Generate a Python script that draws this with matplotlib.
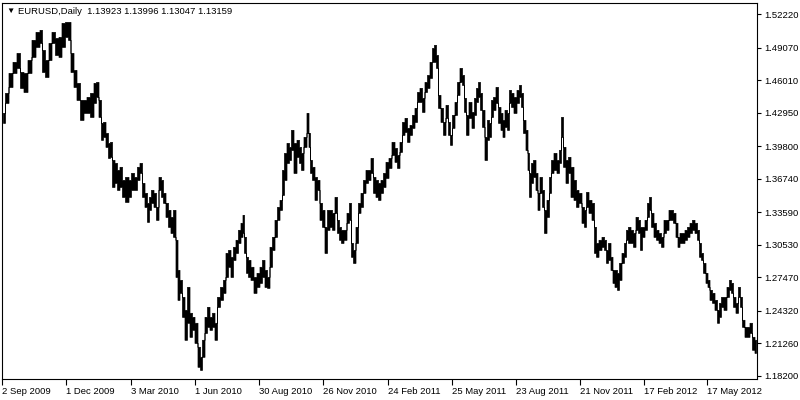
import matplotlib
matplotlib.use("Agg")
import matplotlib.pyplot as plt

plt.rcParams['font.family'] = ['Liberation Sans', 'DejaVu Sans']

# EURUSD daily, high/low (bar = trading day from 2 Sep 2009)
bar = [1, 5, 8, 13, 16, 20, 23, 28, 31, 36, 39, 41, 45, 48, 51, 55, 58, 61, 65, 67,
       70, 73, 76, 80, 83, 86, 90, 93, 95, 98, 100, 102, 105, 107, 109, 111, 114, 116, 119, 121,
       125, 128, 130, 134, 136, 139, 141, 144, 146, 148, 150, 153, 155, 158, 160, 162, 165, 167, 170, 172,
       175, 176, 179, 181, 184, 186, 189, 191, 194, 197, 199, 201, 204, 206, 209, 211, 214, 216, 220, 222,
       225, 227, 230, 232, 235, 237, 240, 241, 243, 245, 247, 250, 253, 256, 259, 261, 264, 266, 269, 271,
       274, 276, 279, 281, 283, 286, 288, 290, 293, 296, 298, 300, 303, 306, 307, 309, 311, 314, 316, 319,
       321, 324, 326, 329, 331, 334, 336, 338, 340, 343, 346, 348, 350, 352, 355, 357, 360, 362, 365, 367,
       370, 372, 375, 377, 380, 382, 385, 388, 391, 394, 396, 399, 401, 404, 406, 409, 411, 414, 416, 419,
       421, 424, 426, 429, 431, 433, 435, 437, 440, 442, 445, 447, 449, 451, 454, 456, 459, 461, 463, 465,
       468, 471, 473, 475, 477, 479, 481, 484, 486, 488, 490, 492, 495, 497, 500, 501, 504, 506, 508, 510,
       513, 516, 518, 520, 522, 525, 526, 528, 530, 532, 535, 536, 539, 541, 543, 546, 548, 550, 553, 556,
       558, 560, 562, 565, 567, 570, 573, 575, 578, 581, 583, 585, 588, 591, 593, 595, 598, 601, 603, 605,
       607, 610, 611, 614, 616, 618, 621, 623, 625, 627, 630, 632, 635, 637, 639, 641, 644, 646, 648, 650,
       653, 655, 658, 660, 663, 665, 668, 670, 672, 675, 676, 679, 681, 684, 686, 689, 691, 694, 696, 698,
       700, 702, 705, 706, 709, 711, 714, 716, 718, 720, 723, 726, 728, 730, 732, 735, 737, 739, 741, 744,
       746, 749, 751, 754]

high = [1.4294, 1.4482, 1.4670, 1.4774, 1.4858, 1.4679, 1.4670, 1.4792, 1.4981, 1.5056,
        1.5075, 1.4886, 1.4792, 1.4952, 1.5056, 1.4999, 1.5009, 1.5141, 1.5150, 1.5150,
        1.4858, 1.4698, 1.4576, 1.4416, 1.4416, 1.4444, 1.4482, 1.4576, 1.4585, 1.4416,
        1.4200, 1.4209, 1.4105, 1.4011, 1.4021, 1.3851, 1.3823, 1.3757, 1.3786, 1.3663,
        1.3691, 1.3663, 1.3729, 1.3691, 1.3786, 1.3823, 1.3635, 1.3541, 1.3447, 1.3503,
        1.3569, 1.3541, 1.3409, 1.3691, 1.3663, 1.3541, 1.3447, 1.3381, 1.3315, 1.3381,
        1.3099, 1.2816, 1.2722, 1.2562, 1.2440, 1.2656, 1.2412, 1.2374, 1.2318, 1.2092,
        1.1998, 1.2158, 1.2374, 1.2468, 1.2374, 1.2412, 1.2318, 1.2562, 1.2656, 1.2722,
        1.2976, 1.3004, 1.2939, 1.3033, 1.3099, 1.3193, 1.3259, 1.3334, 1.3127, 1.2939,
        1.2910, 1.2845, 1.2750, 1.2788, 1.2845, 1.2910, 1.2816, 1.2750, 1.3033, 1.3127,
        1.3287, 1.3409, 1.3475, 1.3757, 1.3917, 1.4011, 1.3974, 1.4134, 1.4011, 1.4040,
        1.3974, 1.3917, 1.4068, 1.4294, 1.4105, 1.3851, 1.3786, 1.3691, 1.3663, 1.3447,
        1.3381, 1.3221, 1.3381, 1.3381, 1.3353, 1.3503, 1.3287, 1.3221, 1.3193, 1.3193,
        1.3353, 1.3447, 1.3070, 1.3004, 1.3221, 1.3447, 1.3541, 1.3663, 1.3757, 1.3757,
        1.3870, 1.3691, 1.3663, 1.3635, 1.3663, 1.3729, 1.3833, 1.3870, 1.4021, 1.3964,
        1.3898, 1.4021, 1.4209, 1.4247, 1.4153, 1.4181, 1.4275, 1.4341, 1.4491, 1.4529,
        1.4435, 1.4585, 1.4651, 1.4774, 1.4905, 1.4934, 1.4839, 1.4463, 1.4341, 1.4209,
        1.4369, 1.4209, 1.4087, 1.4275, 1.4397, 1.4585, 1.4717, 1.4651, 1.4435, 1.4275,
        1.4397, 1.4303, 1.4435, 1.4529, 1.4585, 1.4482, 1.4322, 1.4068, 1.4228, 1.4200,
        1.4416, 1.4444, 1.4538, 1.4350, 1.4294, 1.4228, 1.4322, 1.4294, 1.4510, 1.4482,
        1.4444, 1.4510, 1.4557, 1.4482, 1.4228, 1.4134, 1.3917, 1.3729, 1.3823, 1.3851,
        1.3729, 1.3541, 1.3691, 1.3569, 1.3381, 1.3475, 1.3691, 1.3851, 1.3917, 1.3851,
        1.3946, 1.4256, 1.3974, 1.3851, 1.3880, 1.3786, 1.3663, 1.3569, 1.3541, 1.3409,
        1.3381, 1.3550, 1.3475, 1.3447, 1.3221, 1.3070, 1.3099, 1.3127, 1.3099, 1.3004,
        1.3070, 1.2939, 1.2816, 1.2816, 1.2788, 1.2882, 1.2976, 1.3070, 1.3193, 1.3221,
        1.3193, 1.3164, 1.3315, 1.3287, 1.3221, 1.3221, 1.3287, 1.3447, 1.3503, 1.3353,
        1.3259, 1.3193, 1.3164, 1.3127, 1.3287, 1.3287, 1.3381, 1.3381, 1.3353, 1.3259,
        1.3127, 1.3164, 1.3164, 1.3193, 1.3221, 1.3259, 1.3287, 1.3259, 1.3193, 1.3070,
        1.2976, 1.2882, 1.2788, 1.2722, 1.2628, 1.2600, 1.2534, 1.2440, 1.2506, 1.2562,
        1.2562, 1.2656, 1.2722, 1.2694, 1.2562, 1.2506, 1.2656, 1.2562, 1.2346, 1.2280,
        1.2280, 1.2318, 1.2186, 1.2158]

low = [1.4200, 1.4388, 1.4538, 1.4670, 1.4717, 1.4529, 1.4491, 1.4670, 1.4821, 1.4915,
       1.4952, 1.4679, 1.4632, 1.4792, 1.4952, 1.4839, 1.4821, 1.4915, 1.5009, 1.4981,
       1.4679, 1.4538, 1.4416, 1.4228, 1.4294, 1.4294, 1.4256, 1.4388, 1.4444, 1.4256,
       1.4040, 1.4068, 1.3974, 1.3870, 1.3880, 1.3597, 1.3635, 1.3569, 1.3597, 1.3503,
       1.3456, 1.3503, 1.3569, 1.3569, 1.3663, 1.3729, 1.3503, 1.3409, 1.3268, 1.3381,
       1.3447, 1.3409, 1.3287, 1.3569, 1.3503, 1.3447, 1.3315, 1.3221, 1.3164, 1.3127,
       1.2750, 1.2534, 1.2600, 1.2374, 1.2158, 1.2318, 1.2186, 1.2252, 1.2129, 1.1904,
       1.1875, 1.1998, 1.2223, 1.2280, 1.2252, 1.2280, 1.2158, 1.2468, 1.2534, 1.2600,
       1.2750, 1.2845, 1.2750, 1.2910, 1.2976, 1.3070, 1.3127, 1.3164, 1.2976, 1.2788,
       1.2750, 1.2722, 1.2600, 1.2656, 1.2694, 1.2750, 1.2656, 1.2647, 1.2845, 1.3004,
       1.3127, 1.3287, 1.3381, 1.3522, 1.3663, 1.3823, 1.3851, 1.3945, 1.3729, 1.3880,
       1.3823, 1.3757, 1.3974, 1.4105, 1.3974, 1.3729, 1.3663, 1.3475, 1.3569, 1.3287,
       1.3221, 1.2976, 1.3193, 1.3221, 1.3193, 1.3353, 1.3164, 1.3099, 1.3070, 1.3099,
       1.3259, 1.3287, 1.2939, 1.2882, 1.3070, 1.3353, 1.3409, 1.3541, 1.3635, 1.3663,
       1.3729, 1.3541, 1.3503, 1.3475, 1.3541, 1.3597, 1.3682, 1.3776, 1.3898, 1.3833,
       1.3776, 1.3927, 1.4087, 1.4115, 1.4021, 1.4087, 1.4153, 1.4209, 1.4397, 1.4397,
       1.4303, 1.4491, 1.4529, 1.4623, 1.4774, 1.4774, 1.4717, 1.4341, 1.4209, 1.4087,
       1.4247, 1.4087, 1.3993, 1.4153, 1.4275, 1.4463, 1.4585, 1.4557, 1.4303, 1.4087,
       1.4247, 1.4153, 1.4275, 1.4397, 1.4444, 1.4322, 1.4162, 1.3851, 1.4040, 1.4068,
       1.4256, 1.4322, 1.4388, 1.4200, 1.4134, 1.4068, 1.4162, 1.4134, 1.4388, 1.4350,
       1.4294, 1.4388, 1.4444, 1.4350, 1.4105, 1.3945, 1.3757, 1.3503, 1.3635, 1.3691,
       1.3569, 1.3381, 1.3541, 1.3409, 1.3164, 1.3315, 1.3541, 1.3729, 1.3757, 1.3729,
       1.3823, 1.4068, 1.3786, 1.3635, 1.3729, 1.3503, 1.3475, 1.3409, 1.3447, 1.3259,
       1.3221, 1.3409, 1.3353, 1.3287, 1.2976, 1.2939, 1.3004, 1.3033, 1.3004, 1.2882,
       1.2910, 1.2816, 1.2694, 1.2656, 1.2628, 1.2722, 1.2882, 1.2939, 1.3099, 1.3070,
       1.3070, 1.3033, 1.3193, 1.3164, 1.3004, 1.3127, 1.3193, 1.3315, 1.3381, 1.3221,
       1.3127, 1.3099, 1.3070, 1.3033, 1.3164, 1.3193, 1.3287, 1.3287, 1.3259, 1.3127,
       1.3033, 1.3070, 1.3070, 1.3099, 1.3127, 1.3164, 1.3193, 1.3164, 1.3099, 1.2939,
       1.2910, 1.2788, 1.2694, 1.2656, 1.2534, 1.2506, 1.2440, 1.2318, 1.2374, 1.2468,
       1.2440, 1.2562, 1.2628, 1.2600, 1.2468, 1.2412, 1.2562, 1.2468, 1.2280, 1.2186,
       1.2186, 1.2223, 1.2064, 1.2035]

date_ticks = [0, 64, 129, 193, 257, 321, 386, 450, 514, 578, 642, 705]
date_labels = ['2 Sep 2009', '1 Dec 2009', '3 Mar 2010', '1 Jun 2010', '30 Aug 2010',
               '26 Nov 2010', '24 Feb 2011', '25 May 2011', '23 Aug 2011', '21 Nov 2011',
               '17 Feb 2012', '17 May 2012']
price_ticks = [1.52220, 1.49070, 1.46010, 1.42950, 1.39800, 1.36740,
               1.33590, 1.30530, 1.27470, 1.24320, 1.21260, 1.18200]
header = 'EURUSD,Daily  1.13923 1.13996 1.13047 1.13159'

fig = plt.figure(figsize=(8, 4), dpi=100)
ax = fig.add_axes([0.0025, 0.0525, 0.94375, 0.94])

# bars drawn as a stepped high-low band
ax.fill_between(bar, low, high, step='mid', color='black', lw=0.5)

ax.set_xlim(0, 755)
ax.set_ylim(1.1789, 1.5328)

ax.yaxis.tick_right()
ax.set_yticks(price_ticks)
ax.set_yticklabels(['%.5f' % p for p in price_ticks])
ax.set_xticks(date_ticks)
ax.set_xticklabels(date_labels, ha='left')
ax.tick_params(axis='y', direction='out', length=3, width=0.8, pad=2, labelsize=6.8)
ax.tick_params(axis='x', direction='out', length=4, width=0.8, pad=1.5, labelsize=6.8)
for s in ax.spines.values():
    s.set_linewidth(0.8)

fig.text(6 / 800, 1 - 11 / 400, '\u25bc', fontsize=6, va='center', ha='left')
fig.text(18 / 800, 1 - 11 / 400, header, fontsize=6.8, va='center', ha='left')

fig.savefig('out.png', dpi=100)
